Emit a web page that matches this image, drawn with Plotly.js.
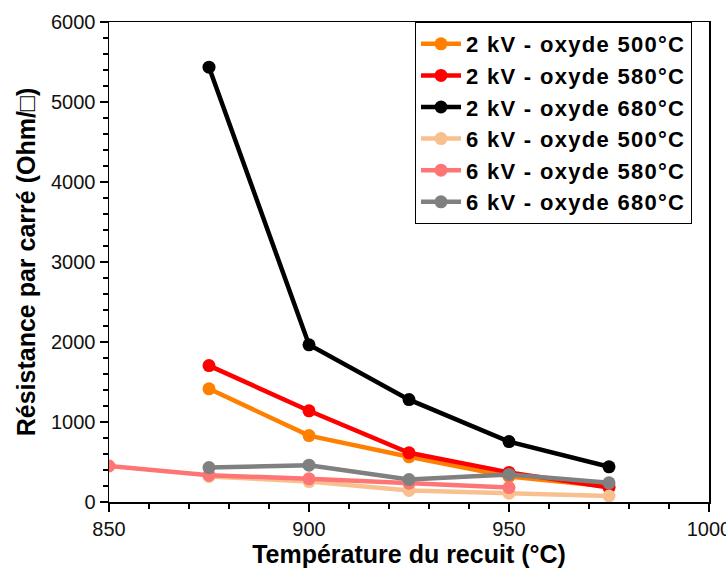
<!DOCTYPE html>
<html><head><meta charset="utf-8">
<script src="https://cdn.plot.ly/plotly-3.0.1.min.js"></script>
<style>body{margin:0;padding:0;background:#fff}#chart{width:726px;height:568px}.legendtext{letter-spacing:1.3px}</style>
</head><body><div id="chart"></div>
<script>
const names = ["2 kV - oxyde 500°C","2 kV - oxyde 580°C","2 kV - oxyde 680°C","6 kV - oxyde 500°C","6 kV - oxyde 580°C","6 kV - oxyde 680°C"];
const colors = ["#FF8000","#FF0000","#000000","#F9C08F","#FF7474","#808080"];
const x5 = [875, 900, 925, 950, 975];
const xPink = [850, 875, 900, 925, 950];
const kv2_500 = [1415, 830, 565, 320, 195];
const kv2_580 = [1705, 1140, 615, 370, 180];
const kv2_680 = [5435, 1965, 1280, 755, 440];
const kv6_500 = [320, 255, 145, 110, 75];
const kv6_580 = [450, 335, 290, 235, 180];
const kv6_680 = [430, 460, 280, 345, 240];
const xs = [x5, x5, x5, x5, xPink, x5];
const ys = [kv2_500, kv2_580, kv2_680, kv6_500, kv6_580, kv6_680];
const traces = ys.map((y, i) => ({
  x: xs[i], y: y, name: names[i], type: 'scatter', mode: 'lines+markers',
  line: {color: colors[i], width: 4.5}, marker: {color: colors[i], size: 13}
}));
const font = "Liberation Sans, Arial, sans-serif";
const layout = {
  width: 726, height: 568,
  margin: {l: 109, r: 17, t: 22, b: 66},
  paper_bgcolor: '#fff', plot_bgcolor: '#fff',
  showlegend: true,
  font: {family: font, color: '#000'},
  xaxis: {
    range: [850, 1000], dtick: 50, tick0: 850, ticks: 'outside', ticklen: 8, tickwidth: 1.5,
    tickcolor: '#000', showline: true, linecolor: '#000', linewidth: 1.5, mirror: true,
    showgrid: false, zeroline: false, ticklabeloverflow: 'allow',
    minor: {dtick: 10, ticks: 'outside', ticklen: 5, tickcolor: '#000', tickwidth: 1.5, showgrid: false},
    tickfont: {size: 20, family: font, color: '#111'},
    title: {text: "<b>Température du recuit (°C)</b>", font: {size: 25, family: font, color: '#000'}, standoff: 5}
  },
  yaxis: {
    range: [0, 6000], dtick: 1000, ticks: 'outside', ticklen: 8, tickwidth: 1.5,
    tickcolor: '#000', showline: true, linecolor: '#000', linewidth: 1.5, mirror: true,
    showgrid: false, zeroline: false, ticklabeloverflow: 'allow',
    minor: {dtick: 200, ticks: 'outside', ticklen: 5, tickcolor: '#000', tickwidth: 1.5, showgrid: false},
    tickfont: {size: 20, family: font, color: '#111'},
    title: {text: "<b>Résistance par carré (Ohm/□)</b>", font: {size: 25, family: font, color: '#000'}, standoff: 8}
  },
  legend: {
    x: 0.51, y: 1, xanchor: 'left', yanchor: 'top',
    bgcolor: '#fff', bordercolor: '#000', borderwidth: 1,
    font: {size: 22, family: font, color: '#000', weight: 'bold'},
    itemwidth: 40
  }
};
Plotly.newPlot('chart', traces, layout, {displayModeBar: false, staticPlot: true});
</script></body></html>
